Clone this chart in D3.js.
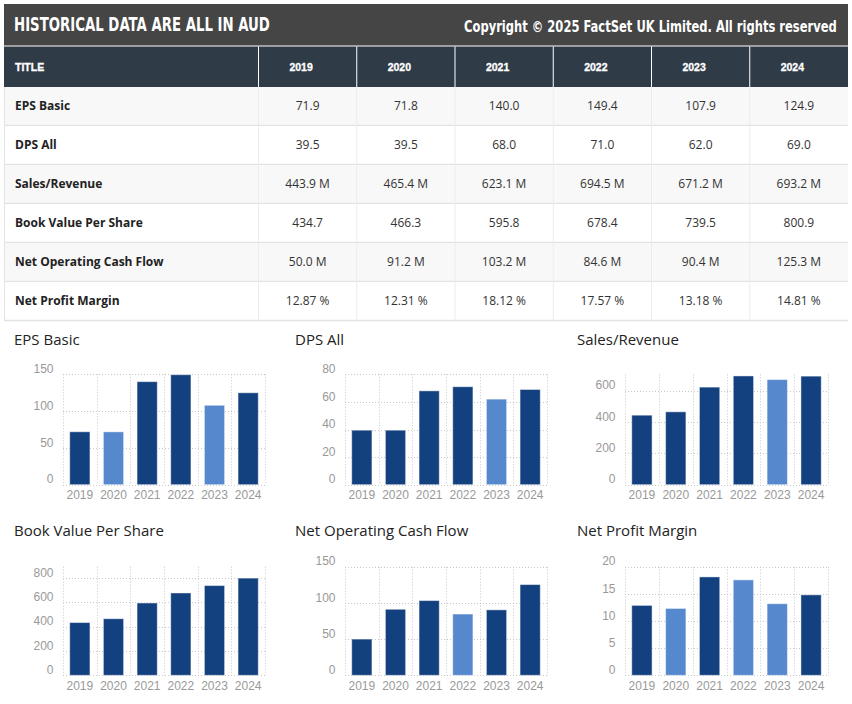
<!DOCTYPE html>
<html>
<head>
<meta charset="utf-8">
<script src="https://cdn.jsdelivr.net/npm/d3@7"></script>
<style>
  html, body { margin: 0; padding: 0; background: #fff; }
  svg { display: block; }
</style>
</head>
<body>
<svg id="chart" width="852" height="704"></svg>
<script>
// ---------- DATA ----------
const years = ["2019", "2020", "2021", "2022", "2023", "2024"];
const metrics = ["EPS Basic", "DPS All", "Sales/Revenue", "Book Value Per Share", "Net Operating Cash Flow", "Net Profit Margin"];
const epsBasic = [71.9, 71.8, 140.0, 149.4, 107.9, 124.9];
const dpsAll = [39.5, 39.5, 68.0, 71.0, 62.0, 69.0];
const salesRevenue = [443.9, 465.4, 623.1, 694.5, 671.2, 693.2];
const bookValuePerShare = [434.7, 466.3, 595.8, 678.4, 739.5, 800.9];
const netOperatingCashFlow = [50.0, 91.2, 103.2, 84.6, 90.4, 125.3];
const netProfitMargin = [12.87, 12.31, 18.12, 17.57, 13.18, 14.81];
const valueSuffix = ["", "", " M", "", " M", " %"];
const valueDecimals = [1, 1, 1, 1, 1, 2];
const yTicksEps = [0, 50, 100, 150];
const yTicksDps = [0, 20, 40, 60, 80];
const yTicksSales = [0, 200, 400, 600];
const yTicksBook = [0, 200, 400, 600, 800];
const yTicksCash = [0, 50, 100, 150];
const yTicksMargin = [0, 5, 10, 15, 20];
const yMaxes = [150, 80, 705, 895, 150, 20];
const headerTitle = "HISTORICAL DATA ARE ALL IN AUD";
const copyrightText = "Copyright \u00A9 2025 FactSet UK Limited. All rights reserved";
const firstColumnTitle = "TITLE";

const series = [epsBasic, dpsAll, salesRevenue, bookValuePerShare, netOperatingCashFlow, netProfitMargin];
const tickSets = [yTicksEps, yTicksDps, yTicksSales, yTicksBook, yTicksCash, yTicksMargin];

// ---------- STYLE / LAYOUT ----------
const DARK = "#13407e", LIGHT = "#5588cc";
const svg = d3.select("#chart");

// Top banner
svg.append("rect").attr("x", 4).attr("y", 4).attr("width", 844).attr("height", 41.5).attr("fill", "#454545");
const condensed = "'Liberation Sans Narrow','DejaVu Sans Condensed','Arial Narrow',sans-serif";
function fittedText(str, x, y, size, width) {
  const g = svg.append("g");
  const t = g.append("text").text(str).attr("x", 0).attr("y", 0)
    .attr("font-family", condensed).attr("font-weight", "bold").attr("font-size", size)
    .attr("fill", "#fff");
  const w = t.node().getComputedTextLength();
  const sx = width / w;
  g.attr("transform", `translate(${x},${y}) scale(${sx},1)`);
}
fittedText(headerTitle, 14, 30.7, 19.5, 256);
fittedText(copyrightText, 464, 31.5, 15.5, 373);

// Table
const tableLeft = 4, tableRight = 848, firstColRight = 258.5;
const colX = d3.scaleBand().domain(years).range([firstColRight, tableRight]);
const headTop = 46.5, headBottom = 87, rowH = 39;
const rowY = d3.scaleBand().domain(metrics).range([headBottom, headBottom + rowH * metrics.length]);

svg.append("rect").attr("x", tableLeft).attr("y", headTop).attr("width", tableRight - tableLeft)
  .attr("height", headBottom - headTop).attr("fill", "#303b48");
const headFont = "'Liberation Sans',Arial,sans-serif";
svg.append("text").text(firstColumnTitle).attr("x", 15).attr("y", 71)
  .attr("font-family", headFont).attr("font-weight", "bold").attr("font-size", 10.5).attr("fill", "#fff")
  .attr("stroke", "#fff").attr("stroke-width", 0.3);
svg.selectAll(".yh").data(years).enter().append("text")
  .attr("x", d => colX(d) + colX.bandwidth() / 2 - 6.5).attr("y", 71)
  .attr("text-anchor", "middle")
  .attr("font-family", headFont).attr("font-weight", "bold").attr("font-size", 10.5).attr("fill", "#fff")
  .attr("stroke", "#fff").attr("stroke-width", 0.3)
  .text(d => d);
svg.selectAll(".hsep").data(years).enter().append("line")
  .attr("x1", d => colX(d)).attr("x2", d => colX(d))
  .attr("y1", headTop).attr("y2", headBottom)
  .attr("stroke", "#fff").attr("stroke-width", 1);

const rows = svg.selectAll(".row").data(metrics).enter().append("g");
rows.append("rect").attr("x", tableLeft).attr("y", d => rowY(d))
  .attr("width", tableRight - tableLeft).attr("height", rowH)
  .attr("fill", (d, i) => i % 2 === 0 ? "#f8f8f8" : "#ffffff");
rows.append("line").attr("x1", tableLeft).attr("x2", tableRight)
  .attr("y1", d => rowY(d) + rowH - 0.5).attr("y2", d => rowY(d) + rowH - 0.5)
  .attr("stroke", "#e3e3e3").attr("stroke-width", 1.5);
rows.selectAll(".vsep").data(years).enter().append("line")
  .attr("x1", d => colX(d)).attr("x2", d => colX(d))
  .attr("y1", function () { return rowY(d3.select(this.parentNode).datum()); })
  .attr("y2", function () { return rowY(d3.select(this.parentNode).datum()) + rowH; })
  .attr("stroke", "#ececec").attr("stroke-width", 1);
rows.append("text").text(d => d).attr("x", 15).attr("y", d => rowY(d) + 23)
  .attr("font-family", "'Open Sans',sans-serif").attr("font-weight", "bold").attr("font-size", 12)
  .attr("fill", "#222");
rows.each(function (m, mi) {
  d3.select(this).selectAll(".val").data(series[mi]).enter().append("text")
    .attr("x", (v, j) => colX(years[j]) + colX.bandwidth() / 2)
    .attr("y", rowY(m) + 23)
    .attr("text-anchor", "middle")
    .attr("font-family", "'Open Sans',sans-serif").attr("font-size", 12).attr("fill", "#333")
    .text(v => v.toFixed(valueDecimals[mi]) + valueSuffix[mi]);
});
svg.append("line").attr("x1", tableLeft + 0.5).attr("x2", tableLeft + 0.5)
  .attr("y1", headBottom).attr("y2", headBottom + rowH * metrics.length)
  .attr("stroke", "#e3e3e3").attr("stroke-width", 1);

// Small multiples
const plotLefts = [63, 345, 625], plotRights = [265, 547, 828];
const plotTops = [374.3, 566.7], plotBottoms = [484.7, 675.3];
const titleXs = [14, 295, 577], titleYs = [345, 536];

metrics.forEach((m, i) => {
  const col = i % 3, row = Math.floor(i / 3);
  const data = series[i];
  const g = svg.append("g");
  const x = d3.scaleBand().domain(years).range([plotLefts[col], plotRights[col]])
    .paddingInner(0.4).paddingOuter(0.2);
  const step = (plotRights[col] - plotLefts[col]) / years.length;
  const y = d3.scaleLinear().domain([0, yMaxes[i]]).range([plotBottoms[row], plotTops[row]]);

  g.append("text").text(m).attr("x", titleXs[col]).attr("y", titleYs[row])
    .attr("font-family", "'Open Sans',sans-serif").attr("font-size", 15).attr("fill", "#222");

  const bounds = d3.range(years.length + 1).map(k => plotLefts[col] + k * step);
  g.selectAll(".vg").data(bounds).enter().append("line")
    .attr("x1", d => Math.round(d) + 0.5).attr("x2", d => Math.round(d) + 0.5)
    .attr("y1", plotTops[row]).attr("y2", plotBottoms[row])
    .attr("stroke", "#c8c8c8").attr("stroke-dasharray", "1,2");
  g.selectAll(".hg").data(tickSets[i]).enter().append("line")
    .attr("x1", plotLefts[col]).attr("x2", plotRights[col])
    .attr("y1", d => Math.round(y(d)) + 0.5).attr("y2", d => Math.round(y(d)) + 0.5)
    .attr("stroke", "#c8c8c8").attr("stroke-dasharray", "1,2");

  g.selectAll(".bar").data(data).enter().append("rect")
    .attr("x", (v, j) => x(years[j]))
    .attr("width", x.bandwidth())
    .attr("y", v => y(v))
    .attr("height", v => y(0) - y(v))
    .attr("fill", (v, j) => (j > 0 && v < data[j - 1]) ? LIGHT : DARK)
    .attr("stroke", "#ffffff").attr("stroke-opacity", 0.45).attr("stroke-width", 1);

  const yAxis = d3.axisLeft(y).tickValues(tickSets[i]).tickSize(0).tickPadding(9.5);
  const ya = g.append("g").attr("transform", `translate(${plotLefts[col]},0)`).call(yAxis);
  ya.select(".domain").remove();
  ya.selectAll("text").attr("dy", "-0.15em")
    .attr("font-family", "'Liberation Sans',Arial,sans-serif").attr("font-size", 12).attr("fill", "#999");

  const xAxis = d3.axisBottom(x).tickSize(0).tickPadding(6);
  const xa = g.append("g").attr("transform", `translate(0,${plotBottoms[row]})`).call(xAxis);
  xa.select(".domain").remove();
  xa.selectAll("text").attr("dy", "0.71em").attr("y", 6)
    .attr("font-family", "'Liberation Sans',Arial,sans-serif").attr("font-size", 12).attr("fill", "#999");
});
</script>
</body>
</html>
